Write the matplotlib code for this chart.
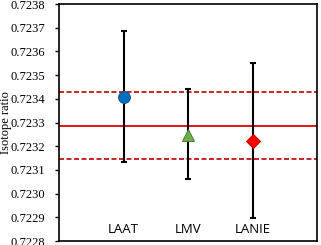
import matplotlib
matplotlib.use("Agg")
import matplotlib.pyplot as plt
from matplotlib.ticker import FixedLocator

categories = ["LAAT", "LMV", "LANIE"]
values = [0.723406, 0.723249, 0.723224]
err_upper = [0.723686, 0.72344, 0.72355]
err_lower = [0.723132, 0.723063, 0.722897]
mean_line = 0.723287
band_upper = 0.723427
band_lower = 0.723146
yticks = [0.7228 + i * 0.0001 for i in range(11)]

fig = plt.figure(figsize=(3.21, 2.45), dpi=100)
ax = fig.add_axes([59/321, 4/245, 258/321, 237/245])

xs = [1, 2, 3]
markers = ["o", "^", "D"]
colors = ["#0070C0", "#70AD47", "#FF0000"]
edges = ["#1F4E79", "#4E7A30", "#C00000"]
sizes = [8.5, 8.5, 7]

ax.axhline(mean_line, color="#E00000", lw=1.3, zorder=1)
ax.axhline(band_upper, color="#C00000", lw=1.2, ls=(0, (3, 1.5)), zorder=1)
ax.axhline(band_lower, color="#C00000", lw=1.2, ls=(0, (3, 1.5)), zorder=1)

for x, v, hi, lo, m, c, e, s in zip(xs, values, err_upper, err_lower, markers, colors, edges, sizes):
    ax.errorbar([x], [v], yerr=[[v - lo], [hi - v]], fmt="none", ecolor="black",
                elinewidth=1.5, capsize=2.5, capthick=1.5, zorder=2)
    ax.plot([x], [v], marker=m, color=c, markersize=s, markeredgecolor=e,
            markeredgewidth=0.7, zorder=3, ls="none")

for x, lab in zip(xs, categories):
    ax.text(x, 0.72282, lab, ha="center", va="bottom",
            fontsize=9.5, family=["Open Sans", "DejaVu Sans"])

ax.set_xlim(0, 4)
ax.set_ylim(0.7228, 0.7238)
ax.yaxis.set_major_locator(FixedLocator(yticks))
ax.set_yticklabels([f"{t:.4f}" for t in yticks], family="Liberation Serif", fontsize=9)
ax.set_xticks([])
ax.tick_params(axis="y", direction="out", length=3, width=1, pad=7)
for sp in ax.spines.values():
    sp.set_linewidth(1.2)
ax.set_ylabel("Isotope ratio", family="Liberation Serif", fontsize=9)
ax.yaxis.set_label_coords(-47/258, 0.5)

fig.savefig("out.png", dpi=100)
